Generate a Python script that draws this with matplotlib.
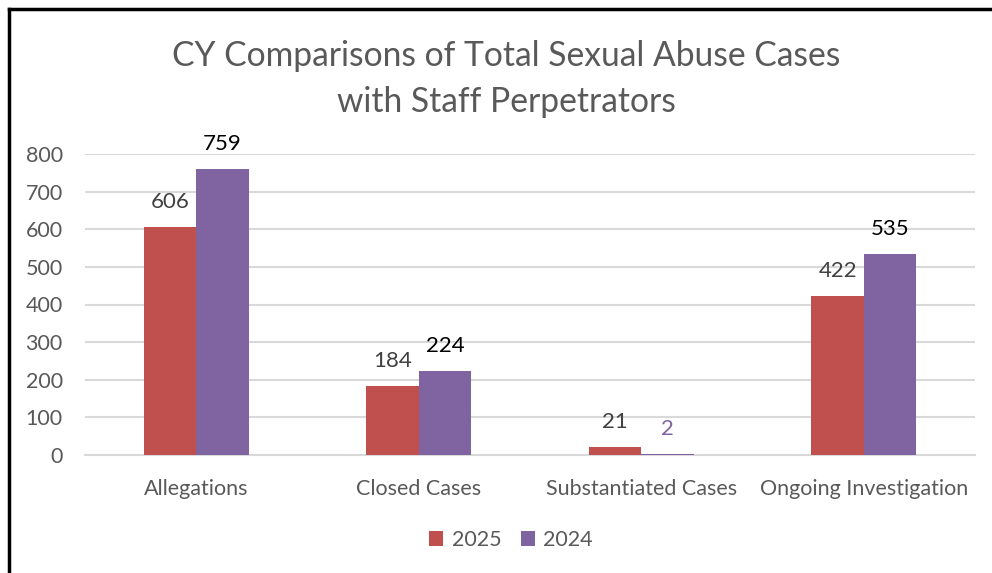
import numpy as np
import matplotlib.pyplot as plt
from matplotlib.lines import Line2D

categories = ['Allegations', 'Closed Cases', 'Substantiated Cases', 'Ongoing Investigation']
vals_2025 = [606, 184, 21, 422]
vals_2024 = [759, 224, 2, 535]
series_names = ['2025', '2024']
yticks = [0, 100, 200, 300, 400, 500, 600, 700, 800]

red = '#C0504D'
purple = '#8064A2'
gray = '#595959'

plt.rcParams['font.family'] = ['Lato', 'DejaVu Sans']

fig = plt.figure(figsize=(9.92, 5.73), dpi=100)
ax = fig.add_axes([85/992, 1-455/573, 890/992, (455-154)/573])

x = np.arange(len(categories))
w = 0.235
b1 = ax.bar(x - w/2, vals_2025, w, color=red, label=series_names[0], zorder=3)
b2 = ax.bar(x + w/2, vals_2024, w, color=purple, label=series_names[1], zorder=3)

for r, v in zip(b1, vals_2025):
    ax.text(r.get_x() + r.get_width()/2, v + 40, str(v), ha='center', va='bottom',
            fontsize=16, color='#404040')
for r, v in zip(b2, vals_2024):
    col = purple if v < 10 else 'black'
    ax.text(r.get_x() + r.get_width()/2, v + 40, str(v), ha='center', va='bottom',
            fontsize=16, color=col)

ax.set_xlim(-0.5, len(categories) - 0.5)
ax.set_ylim(0, 800)
ax.set_yticks(yticks)
ax.set_xticks(x)
ax.set_xticklabels(categories)
ax.tick_params(axis='both', length=0, labelsize=15.5, labelcolor=gray)
ax.tick_params(axis='y', pad=16)
ax.tick_params(axis='x', pad=17)
ax.yaxis.grid(True, color='#d9d9d9', linewidth=1.5, zorder=0)
for s in ['top', 'right', 'left']:
    ax.spines[s].set_visible(False)
ax.spines['bottom'].set_color('#d9d9d9')
ax.spines['bottom'].set_linewidth(1.5)

fig.text(506/992, 1-79/573, 'CY Comparisons of Total Sexual Abuse Cases\nwith Staff Perpetrators',
         ha='center', va='center', fontsize=24.2, color=gray, linespacing=1.5)

fig.legend(loc='center', bbox_to_anchor=(511/992, 1-540/573), ncol=2, frameon=False,
           fontsize=15.5, labelcolor=gray, handlelength=0.65, handleheight=0.65,
           handletextpad=0.4, columnspacing=0.9)

# chart border (top and left visible)
fig.add_artist(Line2D([9/992, 1], [1-9/573, 1-9/573], color='black', linewidth=2.5))
fig.add_artist(Line2D([9/992, 9/992], [0, 1-9/573], color='black', linewidth=2.5))

fig.savefig('out.png', dpi=100)
